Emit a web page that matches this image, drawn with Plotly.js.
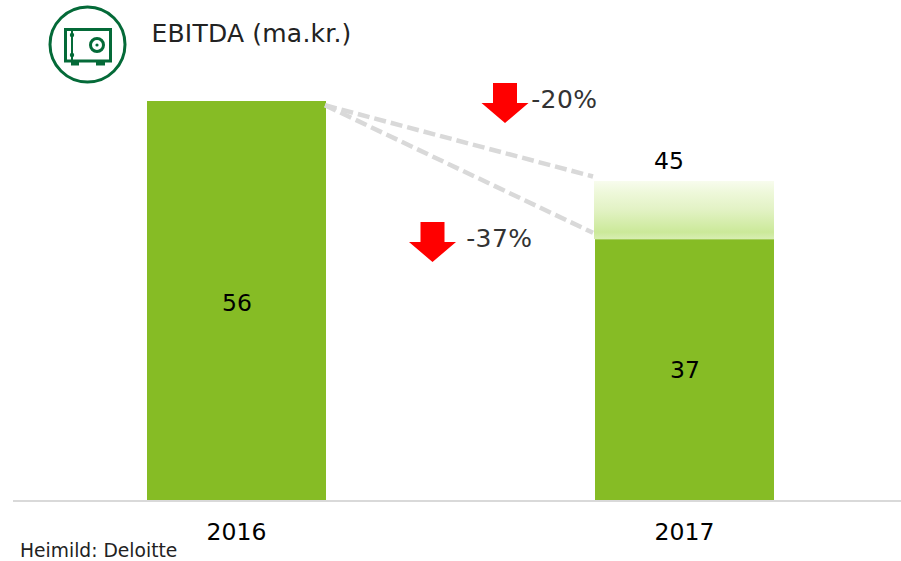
<!DOCTYPE html>
<html><head><meta charset="utf-8">
<script src="https://cdn.plot.ly/plotly-3.0.1.min.js"></script>
<style>html,body{margin:0;padding:0;background:#fff}
.annotation[data-index="0"] text{letter-spacing:.2px}
.annotation[data-index="1"] text,.annotation[data-index="2"] text{letter-spacing:.4px}
</style></head>
<body><div id="chart" style="width:901px;height:561px"></div>
<script>
const years = ['2016', '2017'];
const actual = [56, 36.6];
const potential2017 = 44.8;
const connectorStart = [55.4, 55.4];
const connectorEnd = [45.4, 37.5];
const changes = ['-20%', '-37%'];
const source = 'Heimild: Deloitte';
const chartTitle = 'EBITDA (ma.kr.)';

const W = 901, H = 561;
const FONT = '"DejaVu Sans", Verdana, sans-serif';
const GREEN = '#86bc25', DARK = '#046a38', GREY = '#d9d9d9';
const M = {l: 13, r: 0, t: 0, b: 61};
const pw = W - M.l - M.r, ph = H - M.t - M.b;
const px = x => (x - M.l) / pw;
const py = y => 1 - (y - M.t) / ph;
const pathOf = pts => pts.map((p, i) => (i ? 'L' : 'M') + px(p[0]) + ',' + py(p[1])).join(' ') + ' Z';
const paperShape = o => Object.assign({xref: 'paper', yref: 'paper', layer: 'above'}, o);
const rectPx = (x0, y0, x1, y1, o) => paperShape(Object.assign({type: 'rect', x0: px(x0), x1: px(x1), y0: py(y0), y1: py(y1)}, o));
const circPx = (cx, cy, r, o) => paperShape(Object.assign({type: 'circle', x0: px(cx - r), x1: px(cx + r), y0: py(cy + r), y1: py(cy - r)}, o));
const arrow = (cx, top) => paperShape({type: 'path', fillcolor: '#ff0000', line: {width: 0},
  path: pathOf([[cx - 12, top], [cx + 12, top], [cx + 12, top + 20], [cx + 23.5, top + 20], [cx, top + 40], [cx - 23.5, top + 20], [cx - 12, top + 20]])});
const stroke = {color: DARK, width: 3};
const icon = [
  circPx(87.5, 44.5, 37.5, {line: stroke, fillcolor: 'rgba(0,0,0,0)'}),
  rectPx(65.5, 29.5, 110.5, 61, {line: stroke, fillcolor: 'rgba(0,0,0,0)'}),
  rectPx(71, 30, 73, 60, {line: {width: 0}, fillcolor: DARK}),
  circPx(72, 35, 2.2, {line: {width: 0}, fillcolor: DARK}),
  circPx(72, 55, 2.2, {line: {width: 0}, fillcolor: DARK}),
  circPx(97, 45, 6.5, {line: stroke, fillcolor: 'rgba(0,0,0,0)'}),
  circPx(97, 45, 1.6, {line: {width: 0}, fillcolor: DARK}),
  rectPx(71, 62, 79, 65.5, {line: {width: 0}, fillcolor: DARK}),
  rectPx(96, 62, 105, 65.5, {line: {width: 0}, fillcolor: DARK})
];

const gradSvg = '<svg xmlns="http://www.w3.org/2000/svg" width="10" height="100" preserveAspectRatio="none"><defs><linearGradient id="g" x1="0" y1="0" x2="0" y2="1">' +
  '<stop offset="0" stop-color="#f8fcee"/><stop offset="0.2" stop-color="#eef8da"/><stop offset="0.5" stop-color="#e2f2c4"/><stop offset="0.88" stop-color="#cbe999"/><stop offset="1" stop-color="#d8eeb2"/>' +
  '</linearGradient></defs><rect width="10" height="100" fill="url(#g)"/></svg>';

const barWidth = 179 / 448, half = barWidth / 2;
const onePx = 1 / 448;
const xs = [0, 1];
const traces = [
  {type: 'bar', x: xs, y: actual, width: barWidth, marker: {color: GREEN, line: {width: 0}}, hoverinfo: 'skip'},
  {type: 'scatter', mode: 'lines', x: [half - onePx, 1 - half - 2 * onePx], y: [connectorStart[0], connectorEnd[0]],
   line: {color: GREY, width: 4.5, dash: '12px,5px'}, hoverinfo: 'skip'},
  {type: 'scatter', mode: 'lines', x: [half - onePx, 1 - half - 2 * onePx], y: [connectorStart[1], connectorEnd[1]],
   line: {color: GREY, width: 4.5, dash: '12px,5px'}, hoverinfo: 'skip'}
];
const txt = (t, x, y, size, color) => ({text: t, xref: 'paper', yref: 'paper', x: px(x), y: py(y), showarrow: false,
  xanchor: 'left', yanchor: 'middle', font: {family: FONT, size, color}});
const barLabel = (i, shift) => ({text: String(Math.round(actual[i])), xref: 'x', yref: 'y', x: xs[i], y: actual[i] / 2, yshift: shift,
  showarrow: false, xanchor: 'center', yanchor: 'middle', font: {family: FONT, size: 23.5, color: '#000'}});
const layout = {
  width: W, height: H, margin: M, showlegend: false, paper_bgcolor: '#fff', plot_bgcolor: '#fff',
  barmode: 'overlay', font: {family: FONT},
  xaxis: {type: 'linear', range: [(13 - 236.5) / 448, (901 - 236.5) / 448], tickmode: 'array', tickvals: xs, ticktext: years,
    showgrid: false, zeroline: false, showline: true, linecolor: GREY, linewidth: 2, ticks: 'outside', tickcolor: 'rgba(0,0,0,0)', ticklen: 10,
    tickfont: {family: FONT, size: 23.5, color: '#000'}},
  yaxis: {range: [0, 500 / 7.125], visible: false, showgrid: false, zeroline: false},
  images: [{source: 'data:image/svg+xml;utf8,' + encodeURIComponent(gradSvg), xref: 'x', yref: 'y',
    x: 1 - half - onePx, y: potential2017, sizex: barWidth + onePx, sizey: potential2017 - actual[1], sizing: 'stretch', xanchor: 'left', yanchor: 'top', layer: 'below'}],
  shapes: icon.concat([arrow(505, 83), arrow(432.5, 222)]),
  annotations: [
    txt(chartTitle, 151, 33, 25, '#222'),
    txt(changes[0], 530, 100, 25, '#333'),
    txt(changes[1], 465, 238, 25, '#333'),
    {text: String(Math.round(potential2017)), xref: 'paper', yref: 'paper', x: px(669), y: py(161), showarrow: false, xanchor: 'center', yanchor: 'middle',
     font: {family: FONT, size: 23.5, color: '#000'}},
    txt(source, 18, 550, 18.7, '#222'),
    barLabel(0, -2),
    barLabel(1, 0)
  ]
};
Plotly.newPlot('chart', traces, layout, {displayModeBar: false, staticPlot: true});
</script></body></html>
